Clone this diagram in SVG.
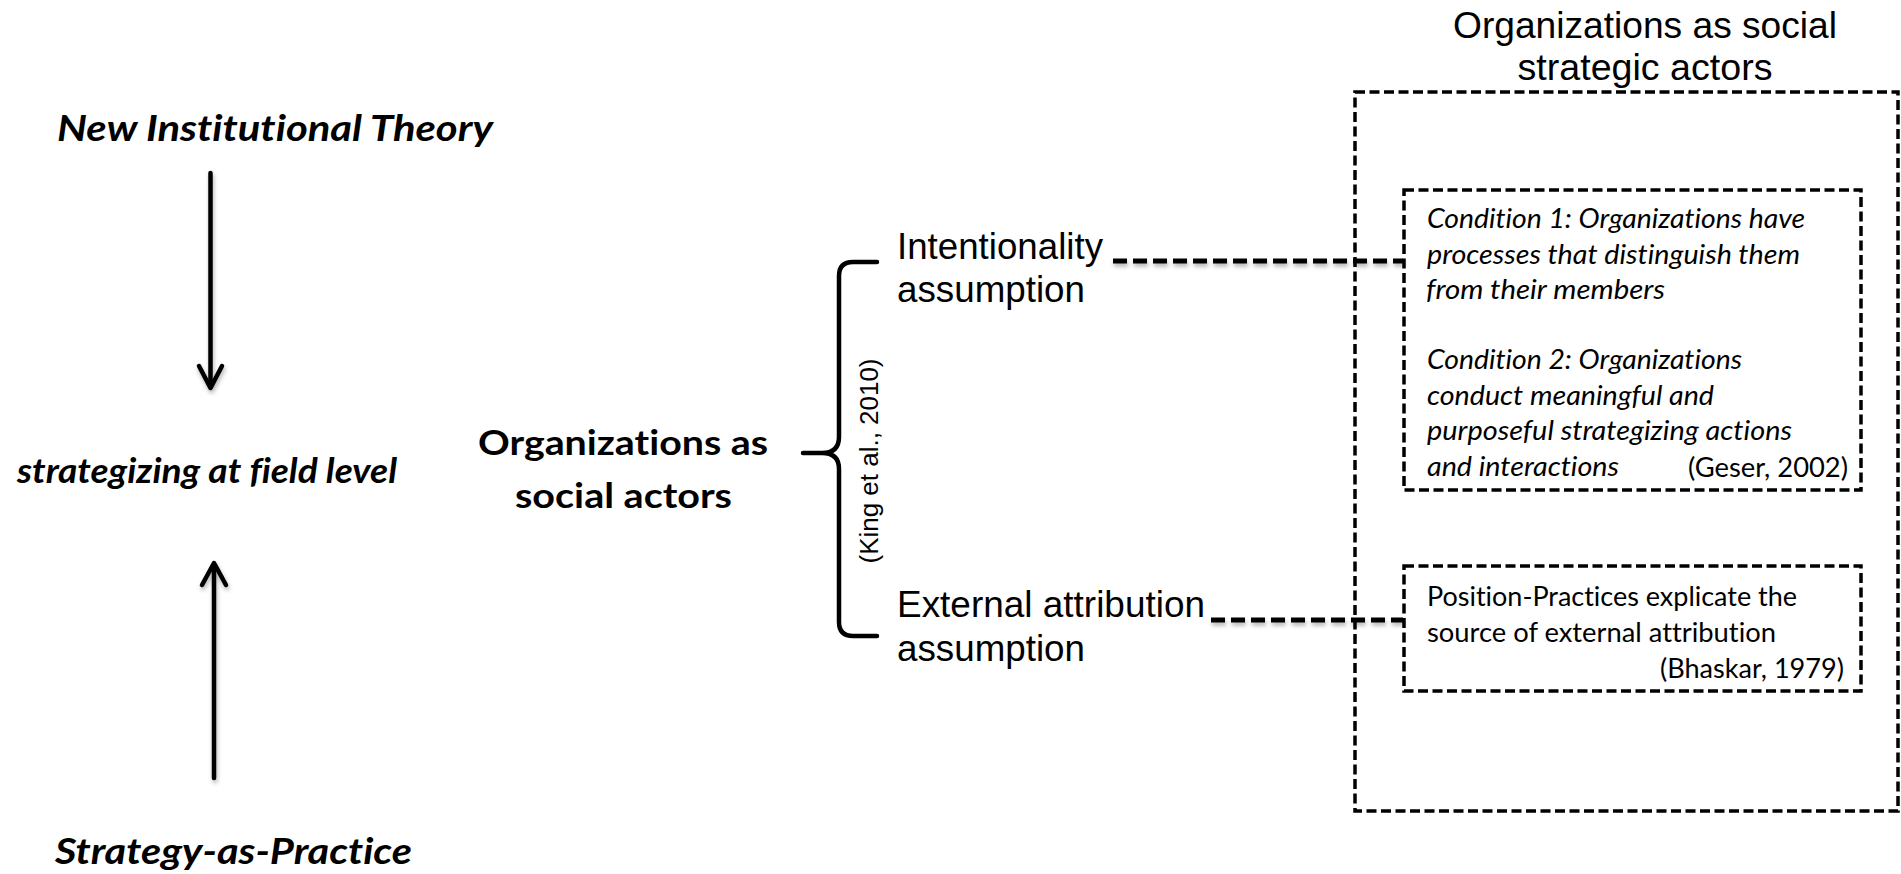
<svg xmlns="http://www.w3.org/2000/svg" width="1901" height="874" viewBox="0 0 1901 874">
<defs>
<filter id="sh" x="-20%" y="-20%" width="140%" height="160%">
<feDropShadow dx="1" dy="3" stdDeviation="2" flood-color="#000" flood-opacity="0.3"/>
</filter>
<style>
text{font-variant-ligatures:none}
.hd{font-family:Lato,"Open Sans","Liberation Sans",sans-serif;font-weight:bold;font-style:italic;fill:#000}
.bd{font-family:Lato,"Open Sans","Liberation Sans",sans-serif;font-weight:bold;fill:#000}
.ar{font-family:"Liberation Sans",Arial,sans-serif;fill:#000}
.it{font-family:Lato,"Open Sans","Liberation Sans",sans-serif;font-style:italic;font-size:27px;fill:#000}
.rg{font-family:Lato,"Open Sans","Liberation Sans",sans-serif;font-size:27px;fill:#000}
.box{fill:none;stroke:#000;stroke-width:3.5;stroke-dasharray:10 4.5}
.con{fill:none;stroke:#000;stroke-width:5;stroke-dasharray:14 6}
.arw{fill:none;stroke:#000;stroke-width:4.5;stroke-linecap:round;stroke-linejoin:round}
</style>
</defs>
<rect width="1901" height="874" fill="#fff"/>

<g id="nit">
<text class="hd" x="57" y="141" font-size="36" textLength="436" lengthAdjust="spacingAndGlyphs">New Institutional Theory</text>
</g>
<g id="field">
<text class="hd" x="17" y="483" font-size="35" textLength="380" lengthAdjust="spacingAndGlyphs">strategizing at field level</text>
</g>
<g id="sap">
<text class="hd" x="55" y="864" font-size="36" textLength="357" lengthAdjust="spacingAndGlyphs">Strategy-as-Practice</text>
</g>
<g id="osa">
<text class="bd" x="478" y="455" font-size="35" textLength="290" lengthAdjust="spacingAndGlyphs">Organizations as</text>
<text class="bd" x="515" y="508" font-size="35" textLength="217" lengthAdjust="spacingAndGlyphs">social actors</text>
</g>
<g id="brace">
<path class="arw" d="M877 262 L853 262 Q839 262 839 276 L839 437 Q839 453 822 453 L803 453 M822 453 Q839 453 839 469 L839 622 Q839 636 853 636 L877 636"/>
<text class="ar" font-size="25.5" text-anchor="middle" transform="translate(878,461) rotate(-90)" textLength="205" lengthAdjust="spacingAndGlyphs">(King et al., 2010)</text>
</g>
<g id="intent">
<text class="ar" x="897" y="259" font-size="36.5" textLength="206" lengthAdjust="spacingAndGlyphs">Intentionality</text>
<text class="ar" x="897" y="302" font-size="36.5" textLength="188" lengthAdjust="spacingAndGlyphs">assumption</text>
</g>
<g id="extern">
<text class="ar" x="897" y="617" font-size="36.5" textLength="308" lengthAdjust="spacingAndGlyphs">External attribution</text>
<text class="ar" x="897" y="661" font-size="36.5" textLength="188" lengthAdjust="spacingAndGlyphs">assumption</text>
</g>
<g id="outer">
<text class="ar" x="1645" y="38" font-size="36.5" text-anchor="middle" textLength="384" lengthAdjust="spacingAndGlyphs">Organizations as social</text>
<text class="ar" x="1645" y="80" font-size="36.5" text-anchor="middle" textLength="255" lengthAdjust="spacingAndGlyphs">strategic actors</text>
<rect class="box" x="1355" y="92" width="543" height="719"/>
</g>
<g id="cond">
<rect class="box" x="1404" y="190" width="457" height="300"/>
<text class="it" x="1427" y="228" textLength="378" lengthAdjust="spacingAndGlyphs">Condition 1: Organizations have</text>
<text class="it" x="1427" y="263.5" textLength="373" lengthAdjust="spacingAndGlyphs">processes that distinguish them</text>
<text class="it" x="1426" y="299" textLength="239" lengthAdjust="spacingAndGlyphs">from their members</text>
<text class="it" x="1427" y="369" textLength="315" lengthAdjust="spacingAndGlyphs">Condition 2: Organizations</text>
<text class="it" x="1427" y="404.5" textLength="287" lengthAdjust="spacingAndGlyphs">conduct meaningful and</text>
<text class="it" x="1427" y="440" textLength="365" lengthAdjust="spacingAndGlyphs">purposeful strategizing actions</text>
<text class="it" x="1427" y="475.5" textLength="192" lengthAdjust="spacingAndGlyphs">and interactions</text>
<text class="rg" x="1688" y="476.5" textLength="160" lengthAdjust="spacingAndGlyphs">(Geser, 2002)</text>
</g>
<g id="pos">
<rect class="box" x="1404" y="566" width="457" height="125"/>
<text class="rg" x="1427" y="606" textLength="370" lengthAdjust="spacingAndGlyphs">Position-Practices explicate the</text>
<text class="rg" x="1427" y="642" textLength="349" lengthAdjust="spacingAndGlyphs">source of external attribution</text>
<text class="rg" x="1660" y="678" textLength="184" lengthAdjust="spacingAndGlyphs">(Bhaskar, 1979)</text>
</g>
<g id="connectors">
<g filter="url(#sh)">
<line class="arw" x1="210.5" y1="173" x2="210.5" y2="386"/>
<polyline class="arw" points="199,366 210.5,388 222,366"/>
<line class="arw" x1="214" y1="778" x2="214" y2="565"/>
<polyline class="arw" points="202,585 214,563 226,585"/>
<line class="con" x1="1113" y1="261" x2="1403" y2="261"/>
<line class="con" x1="1211" y1="620" x2="1403" y2="620"/>
</g>
</g>
</svg>
